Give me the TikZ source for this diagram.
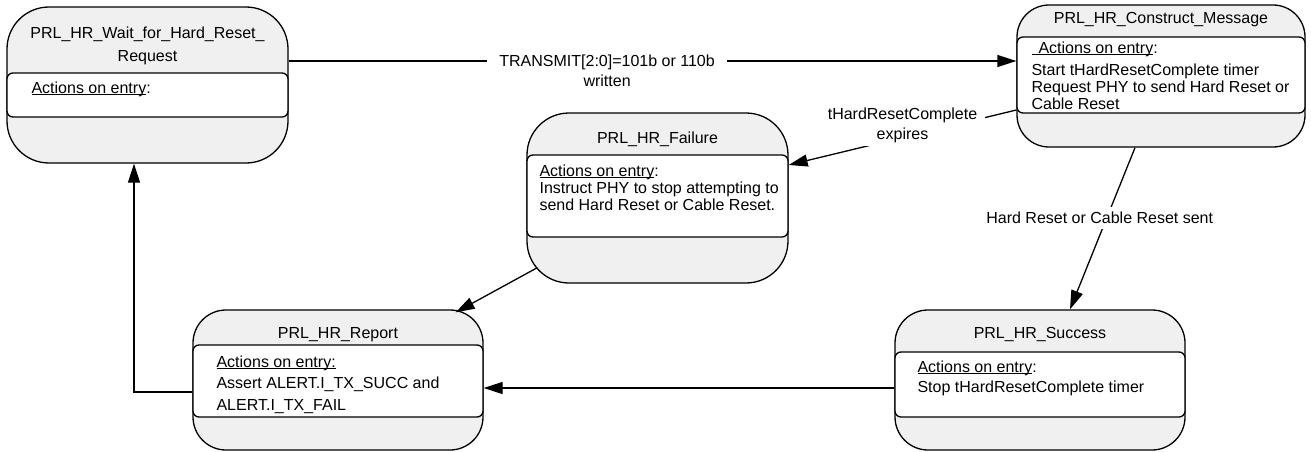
\documentclass[tikz,border=0pt]{standalone}
\usepackage{fontspec}
\setmainfont{Liberation Sans}
\usetikzlibrary{arrows.meta,positioning}
\definecolor{stategray}{gray}{0.94}
% underline that ignores descenders
\newcommand{\entryhead}[1]{\underline{\raisebox{0pt}[\height][0pt]{#1}}}
\tikzset{
    %Define standard arrow tip
    >={Triangle[length=19pt,width=12pt]},
    %Define style for state boxes
    state/.style={
           rectangle,
           rounded corners=42pt,
           draw=black, line width=1.3pt,
           fill=stategray,
           inner sep=0pt},
    %Define style for the entry band
    band/.style={
           rectangle,
           rounded corners=6pt,
           draw=black, line width=1.3pt,
           fill=white,
           inner sep=0pt},
    statename/.style={
           font=\fontsize{16}{23}\selectfont,
           align=center,
           inner sep=0pt},
    entry/.style={
           font=\fontsize{16}{17}\selectfont,
           align=left,
           inner sep=0pt},
    trans/.style={
           font=\fontsize{16}{20}\selectfont,
           align=center,
           fill=white},
    % Define arrow style
    pil/.style={
           ->,
           line width=1.3pt}
}
\begin{document}
\begin{tikzpicture}[x=1pt,y=-1pt]
\useasboundingbox (0,0) rectangle (1311,452);
% states
\node[state, minimum width=281pt, minimum height=156pt] (wait) at (147.5,85) {};
\node[band, minimum width=281pt, minimum height=44pt] (waitband) at (147.5,95) {};
\node[statename, below=20pt of wait.north] (waitname) {PRL\_HR\_Wait\_for\_Hard\_Reset\_\\Request};
\node[entry, below right=9pt and 25pt of waitband.north west] (waittext) {\entryhead{Actions on entry}:};

\node[state, rounded corners=32pt, minimum width=288pt, minimum height=142pt] (construct) at (1161,76) {};
\node[band, minimum width=288pt, minimum height=76pt] (constructband) at (1161,75) {};
\node[statename, below=8pt of construct.north] (constructname) {PRL\_HR\_Construct\_Message};
\node[entry, below right=5pt and 15pt of constructband.north west] (constructtext)
  {\entryhead{\hspace{7pt}Actions on entry}:\\[5pt]Start tHardResetComplete timer\\Request PHY to send Hard Reset or\\Cable Reset};

\node[state, minimum width=261pt, minimum height=170pt] (failure) at (657.5,198) {};
\node[band, minimum width=261pt, minimum height=82pt] (failureband) at (657.5,196) {};
\node[statename, below=19pt of failure.north] (failurename) {PRL\_HR\_Failure};
\node[entry, below right=10pt and 13pt of failureband.north west] (failuretext)
  {\entryhead{Actions on entry}:\\Instruct PHY to stop attempting to\\send Hard Reset or Cable Reset.};

\node[state, rounded corners=33pt, minimum width=290pt, minimum height=140pt] (report) at (338,380) {};
\node[band, minimum width=290pt, minimum height=72pt] (reportband) at (338,381) {};
\node[statename, below=18pt of report.north] (reportname) {PRL\_HR\_Report};
\node[entry, font=\fontsize{16}{21.5}\selectfont, below right=11pt and 24pt of reportband.north west] (reporttext)
  {\entryhead{Actions on entry:}\\Assert ALERT.I\_TX\_SUCC and\\ALERT.I\_TX\_FAIL};

\node[state, rounded corners=33pt, minimum width=290pt, minimum height=140pt] (success) at (1040,380) {};
\node[band, minimum width=290pt, minimum height=65pt] (successband) at (1040,384.5) {};
\node[statename, below=18pt of success.north] (successname) {PRL\_HR\_Success};
\node[entry, font=\fontsize{16}{20}\selectfont, below right=9pt and 23pt of successband.north west] (successtext)
  {\entryhead{Actions on entry}:\\Stop tHardResetComplete timer};

% transitions
\draw[pil] ([yshift=24pt]wait.east) -- ([yshift=24pt]wait.east -| construct.west)
   node[trans, pos=0.4376, yshift=-10pt, inner xsep=12pt, inner ysep=3pt] {TRANSMIT[2:0]=101b or 110b\\written};
\draw[pil] ([yshift=-34pt]construct.west) -- ([yshift=33pt]failure.east)
   node[trans, pos=0.5, yshift=12pt, inner xsep=8pt, inner ysep=3pt] {tHardResetComplete\\expires};
\draw[pil] ([xshift=-26pt]construct.south) -- ([xshift=30pt]success.north)
   node[trans, pos=0.435, xshift=-7pt, inner sep=5pt] {Hard Reset or Cable Reset sent};
\draw[pil] ([xshift=11pt,yshift=16pt]failure.south west) -- ([xshift=-28pt,yshift=-3pt]report.north east);
\draw[pil] ([yshift=-8pt]success.west) -- ([yshift=-8pt]success.west -| report.east);
\draw[pil] ([yshift=-12pt]report.west) -| ([xshift=-13.5pt]wait.south);
\end{tikzpicture}
\end{document}
